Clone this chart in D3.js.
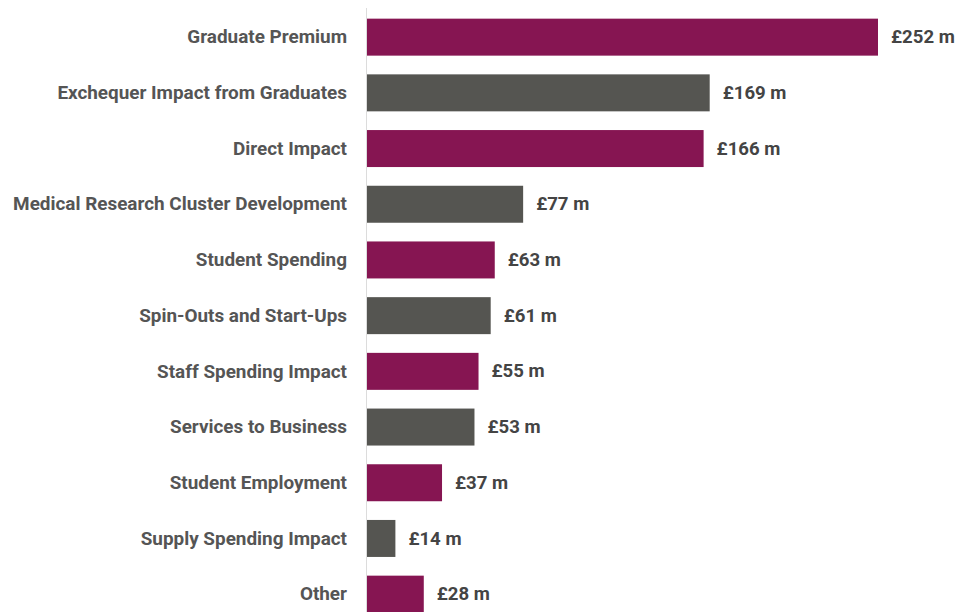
<!DOCTYPE html>
<html>
<head>
<meta charset="utf-8">
<script src="https://cdn.jsdelivr.net/npm/d3@7"></script>
<style>
  html, body { margin: 0; padding: 0; background: #fff; }
  svg { display: block; }
</style>
</head>
<body>
<svg id="chart" width="967" height="612"></svg>
<script>
// Economic impact components, £ millions
const categories = [
  "Graduate Premium",
  "Exchequer Impact from Graduates",
  "Direct Impact",
  "Medical Research Cluster Development",
  "Student Spending",
  "Spin-Outs and Start-Ups",
  "Staff Spending Impact",
  "Services to Business",
  "Student Employment",
  "Supply Spending Impact",
  "Other"
];
const values = [252, 169, 166, 77, 63, 61, 55, 53, 37, 14, 28];
const barColors = ["#861552", "#555551"];

const svg = d3.select("#chart");
const x0 = 367;

const x = d3.scaleLinear().domain([0, 252]).range([x0, 878]);
const y = d3.scaleBand()
  .domain(categories)
  .range([9.3, 9.3 + 55.7 * categories.length])
  .paddingInner(0.336)
  .paddingOuter(0.168);

// baseline
svg.append("line")
  .attr("x1", x0 - 0.5).attr("x2", x0 - 0.5)
  .attr("y1", 8).attr("y2", 612)
  .attr("stroke", "#dcdcdc").attr("stroke-width", 1);

const rows = svg.selectAll("g.row")
  .data(categories.map((c, i) => ({ c, v: values[i], i })))
  .join("g").attr("class", "row");

rows.append("rect")
  .attr("x", x(0))
  .attr("y", d => y(d.c))
  .attr("width", d => x(d.v) - x(0))
  .attr("height", y.bandwidth())
  .attr("fill", d => barColors[d.i % 2]);

rows.append("text")
  .attr("x", x0 - 20)
  .attr("y", d => y(d.c) + y.bandwidth() / 2)
  .attr("dy", "0.33em")
  .attr("text-anchor", "end")
  .attr("font-family", "Roboto, sans-serif")
  .attr("font-weight", "bold")
  .attr("font-size", 18.9)
  .attr("fill", "#555")
  .text(d => d.c);

rows.append("text")
  .attr("x", d => x(d.v) + 13)
  .attr("y", d => y(d.c) + y.bandwidth() / 2)
  .attr("dy", "0.33em")
  .attr("font-family", "Roboto, sans-serif")
  .attr("font-weight", "bold")
  .attr("font-size", 18.6)
  .attr("fill", "#444")
  .text(d => "£" + d.v + " m");
</script>
</body>
</html>
